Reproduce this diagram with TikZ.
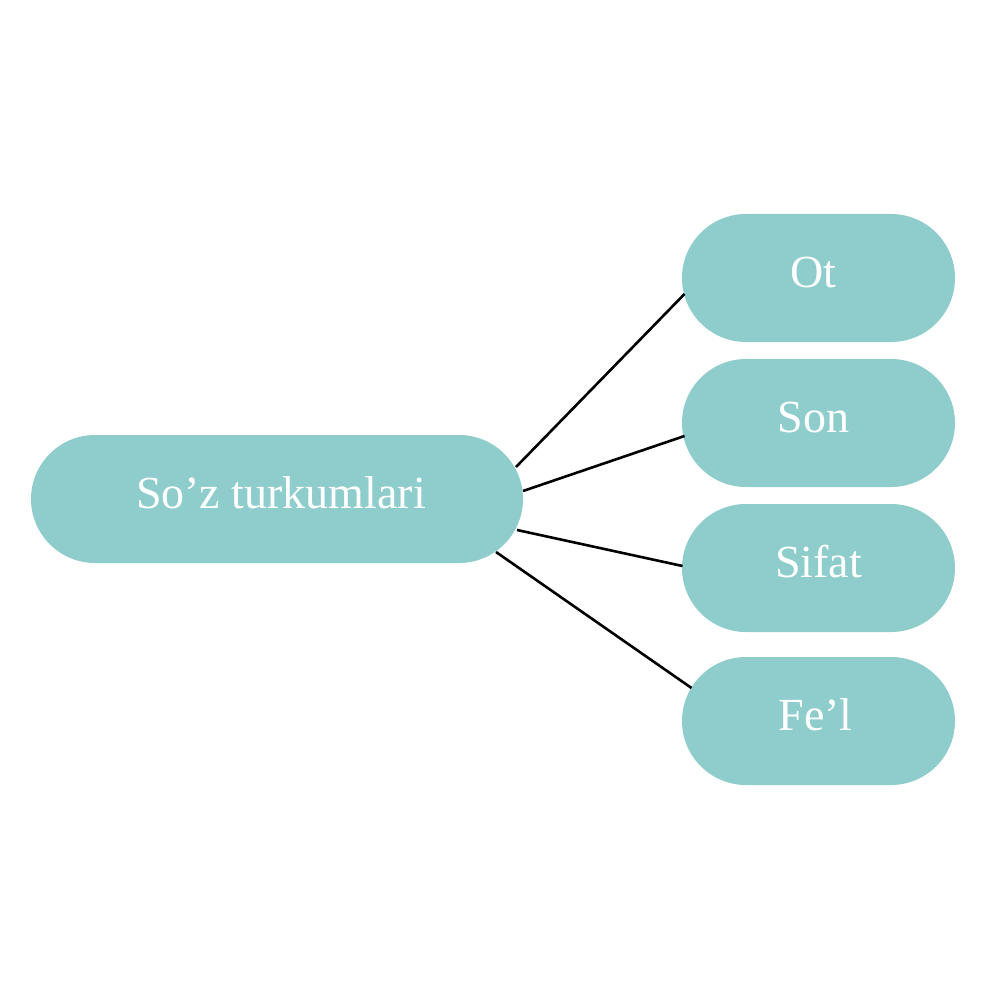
\documentclass[tikz,border=0pt]{standalone}
\usepackage{fontspec}
\setmainfont{Liberation Serif}
\usetikzlibrary{calc}
\definecolor{boxfill}{RGB}{142,205,204}
\tikzset{
  pill/.style={fill=boxfill, draw=none, rounded corners=64pt, minimum height=128pt, inner sep=0pt, text=white, font=\fontsize{46}{55}\selectfont, text height=30pt, text depth=11.6pt},
  conn/.style={draw=black, line width=2.6pt}
}
\begin{document}
\begin{tikzpicture}[x=1pt,y=-1pt]
\useasboundingbox (0,0) rectangle (1000,1000);
\node[pill, minimum width=492pt] (main) at (277,499) {\hspace*{8pt}So’z turkumlari};
\node[pill, minimum width=273pt] (ot) at (818.5,278) {Ot\hspace*{10pt}};
\node[pill, minimum width=273pt] (son) at (818.5,423) {Son\hspace*{10pt}};
\node[pill, minimum width=273pt] (sifat) at (818.5,568) {Sifat};
\node[pill, minimum width=273pt] (fel) at (818.5,721) {Fe’l\hspace*{6pt}};
\draw[conn] ($(main.center)+(239,-32)$) -- ($(ot.center)+(-134,16)$);
\draw[conn] ($(main.center)+(246,-8)$) -- ($(son.center)+(-134,13)$);
\draw[conn] ($(main.center)+(240,31)$) -- ($(sifat.center)+(-136,-2)$);
\draw[conn] ($(main.center)+(219,53)$) -- ($(fel.center)+(-127,-33)$);
\end{tikzpicture}
\end{document}
